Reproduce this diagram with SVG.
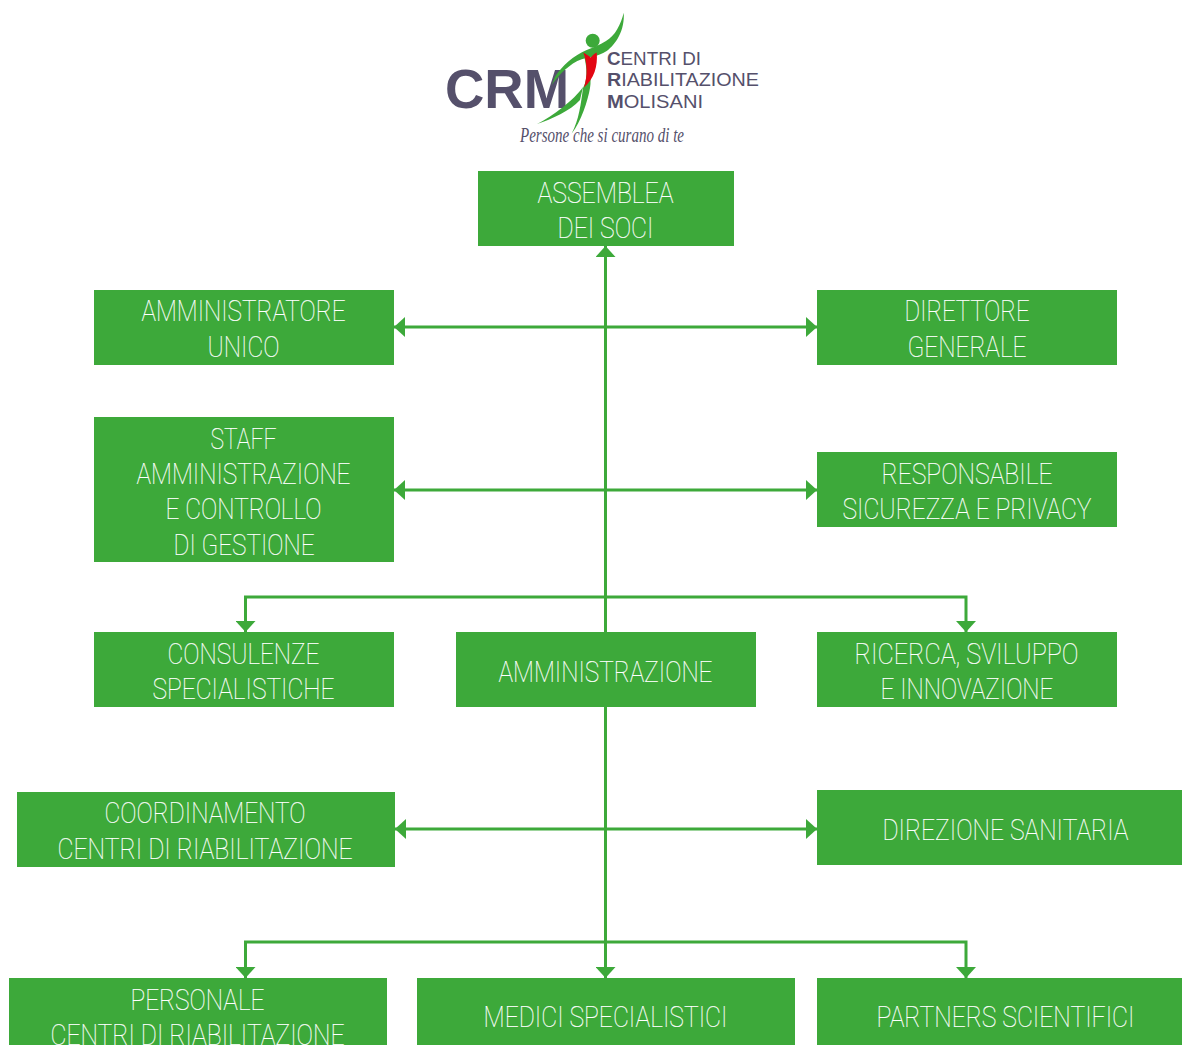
<svg xmlns="http://www.w3.org/2000/svg" width="1182" height="1045" viewBox="0 0 1182 1045">
<style>
.box{fill:#3da93a}
.t{fill:#fff;stroke:#fff;stroke-width:.2px;font-family:Roboto,"Liberation Sans",sans-serif;font-weight:100;font-size:29px}
.c{fill:none;stroke:#3da93a;stroke-width:3}
.g{fill:#3da93a}
.r{fill:#e30613}
.l{fill:#55506b;font-family:"Liberation Sans",sans-serif}
.crm{font-size:55px;font-weight:700}
.s{font-size:18px}
.s tspan{font-weight:700}
.tag{fill:#55506b;font-family:"Liberation Serif",serif;font-style:italic;font-size:20px}
</style>
<defs>
<marker id="a" markerUnits="userSpaceOnUse" markerWidth="11" markerHeight="20" refX="11" refY="10" orient="auto"><path d="M0 0L11 10L0 20Z" fill="#3da93a"/></marker>
</defs>
<g id="logo">
<text class="l crm" x="445" y="107.500" textLength="124" lengthAdjust="spacingAndGlyphs">CRM</text>
<path class="g" d="M623.700 12.700C621 24 615 36 606 41C600 45 592 48 586.700 50C574 55 561 67 555 76.700L551.700 85C558 76 570 63 581.700 59.300C589 57 597 57 606.700 51C616 44 625 30 623.700 12.700Z"/>
<path class="g" d="M537 124C552 119 570 111 580 100L583 87C574 100 553 116 537 124Z"/>
<path class="g" d="M583 52C586 62 589 78 583 88C581 103 579 120 571.700 133.500C581 122 588 100 590 88C592 78 589 62 583 52Z"/>
<path class="r" d="M583.300 52.500C586 54 589 56 590.700 57.500C593 55 595 53 596.700 52.500C598 66 594 79 584 87.500C588 75 587 62 583.300 52.500Z"/>
<circle class="g" cx="592.700" cy="40.700" r="7"/>
<text class="l s" x="607" y="64.500" textLength="94" lengthAdjust="spacingAndGlyphs"><tspan>C</tspan>ENTRI DI</text>
<text class="l s" x="607" y="86" textLength="152" lengthAdjust="spacingAndGlyphs"><tspan>R</tspan>IABILITAZIONE</text>
<text class="l s" x="607" y="107.500" textLength="96" lengthAdjust="spacingAndGlyphs"><tspan>M</tspan>OLISANI</text>
<text class="tag" x="520" y="142" textLength="164" lengthAdjust="spacingAndGlyphs">Persone che si curano di te</text>
</g>
<g id="connectors">
<path class="c" d="M605.500 707V978" marker-end="url(#a)"/>
<path class="c" d="M605.500 632V246" marker-end="url(#a)"/>
<path class="c" d="M605.500 327H394" marker-end="url(#a)"/>
<path class="c" d="M605.500 327H817" marker-end="url(#a)"/>
<path class="c" d="M605.500 490H394" marker-end="url(#a)"/>
<path class="c" d="M605.500 490H817" marker-end="url(#a)"/>
<path class="c" d="M605.500 597H245.500V632" marker-end="url(#a)"/>
<path class="c" d="M605.500 597H966V632" marker-end="url(#a)"/>
<path class="c" d="M605.500 829H395" marker-end="url(#a)"/>
<path class="c" d="M605.500 829H817" marker-end="url(#a)"/>
<path class="c" d="M605.500 942H245.500V978" marker-end="url(#a)"/>
<path class="c" d="M605.500 942H966V978" marker-end="url(#a)"/>
</g>
<g id="assemblea"><rect class="box" x="478" y="171" width="256" height="75"/>
<text class="t" x="537.500" y="203" textLength="136" lengthAdjust="spacingAndGlyphs">ASSEMBLEA</text>
<text class="t" x="557.500" y="238" textLength="96" lengthAdjust="spacingAndGlyphs">DEI SOCI</text></g>
<g id="amministratore"><rect class="box" x="94" y="290" width="300" height="75"/>
<text class="t" x="141.500" y="321" textLength="204" lengthAdjust="spacingAndGlyphs">AMMINISTRATORE</text>
<text class="t" x="207.500" y="357" textLength="72" lengthAdjust="spacingAndGlyphs">UNICO</text></g>
<g id="direttore"><rect class="box" x="817" y="290" width="300" height="75"/>
<text class="t" x="904.500" y="321" textLength="125" lengthAdjust="spacingAndGlyphs">DIRETTORE</text>
<text class="t" x="907.500" y="357" textLength="119" lengthAdjust="spacingAndGlyphs">GENERALE</text></g>
<g id="staff"><rect class="box" x="94" y="417" width="300" height="145"/>
<text class="t" x="210.500" y="449" textLength="66" lengthAdjust="spacingAndGlyphs">STAFF</text>
<text class="t" x="136.500" y="484" textLength="214" lengthAdjust="spacingAndGlyphs">AMMINISTRAZIONE</text>
<text class="t" x="165.500" y="519" textLength="156" lengthAdjust="spacingAndGlyphs">E CONTROLLO</text>
<text class="t" x="173.500" y="555" textLength="141" lengthAdjust="spacingAndGlyphs">DI GESTIONE</text></g>
<g id="responsabile"><rect class="box" x="817" y="452" width="300" height="75"/>
<text class="t" x="881.500" y="484" textLength="171" lengthAdjust="spacingAndGlyphs">RESPONSABILE</text>
<text class="t" x="842.500" y="519" textLength="249" lengthAdjust="spacingAndGlyphs">SICUREZZA E PRIVACY</text></g>
<g id="consulenze"><rect class="box" x="94" y="632" width="300" height="75"/>
<text class="t" x="167.500" y="664" textLength="152" lengthAdjust="spacingAndGlyphs">CONSULENZE</text>
<text class="t" x="152.500" y="699" textLength="182" lengthAdjust="spacingAndGlyphs">SPECIALISTICHE</text></g>
<g id="amministrazione"><rect class="box" x="456" y="632" width="300" height="75"/>
<text class="t" x="498.500" y="682" textLength="214" lengthAdjust="spacingAndGlyphs">AMMINISTRAZIONE</text></g>
<g id="ricerca"><rect class="box" x="817" y="632" width="300" height="75"/>
<text class="t" x="854.500" y="664" textLength="224" lengthAdjust="spacingAndGlyphs">RICERCA, SVILUPPO</text>
<text class="t" x="880.500" y="699" textLength="173" lengthAdjust="spacingAndGlyphs">E INNOVAZIONE</text></g>
<g id="coordinamento"><rect class="box" x="17" y="792" width="378" height="75"/>
<text class="t" x="104.500" y="823" textLength="201" lengthAdjust="spacingAndGlyphs">COORDINAMENTO</text>
<text class="t" x="57.500" y="859" textLength="295" lengthAdjust="spacingAndGlyphs">CENTRI DI RIABILITAZIONE</text></g>
<g id="direzione"><rect class="box" x="817" y="790" width="365" height="75"/>
<text class="t" x="882.500" y="840" textLength="246" lengthAdjust="spacingAndGlyphs">DIREZIONE SANITARIA</text></g>
<g id="personale"><rect class="box" x="9" y="978" width="378" height="75"/>
<text class="t" x="130.500" y="1010" textLength="134" lengthAdjust="spacingAndGlyphs">PERSONALE</text>
<text class="t" x="50.500" y="1045" textLength="294" lengthAdjust="spacingAndGlyphs">CENTRI DI RIABILITAZIONE</text></g>
<g id="medici"><rect class="box" x="417" y="978" width="378" height="75"/>
<text class="t" x="483.500" y="1027" textLength="244" lengthAdjust="spacingAndGlyphs">MEDICI SPECIALISTICI</text></g>
<g id="partners"><rect class="box" x="817" y="978" width="365" height="75"/>
<text class="t" x="876.500" y="1027" textLength="258" lengthAdjust="spacingAndGlyphs">PARTNERS SCIENTIFICI</text></g>
</svg>
